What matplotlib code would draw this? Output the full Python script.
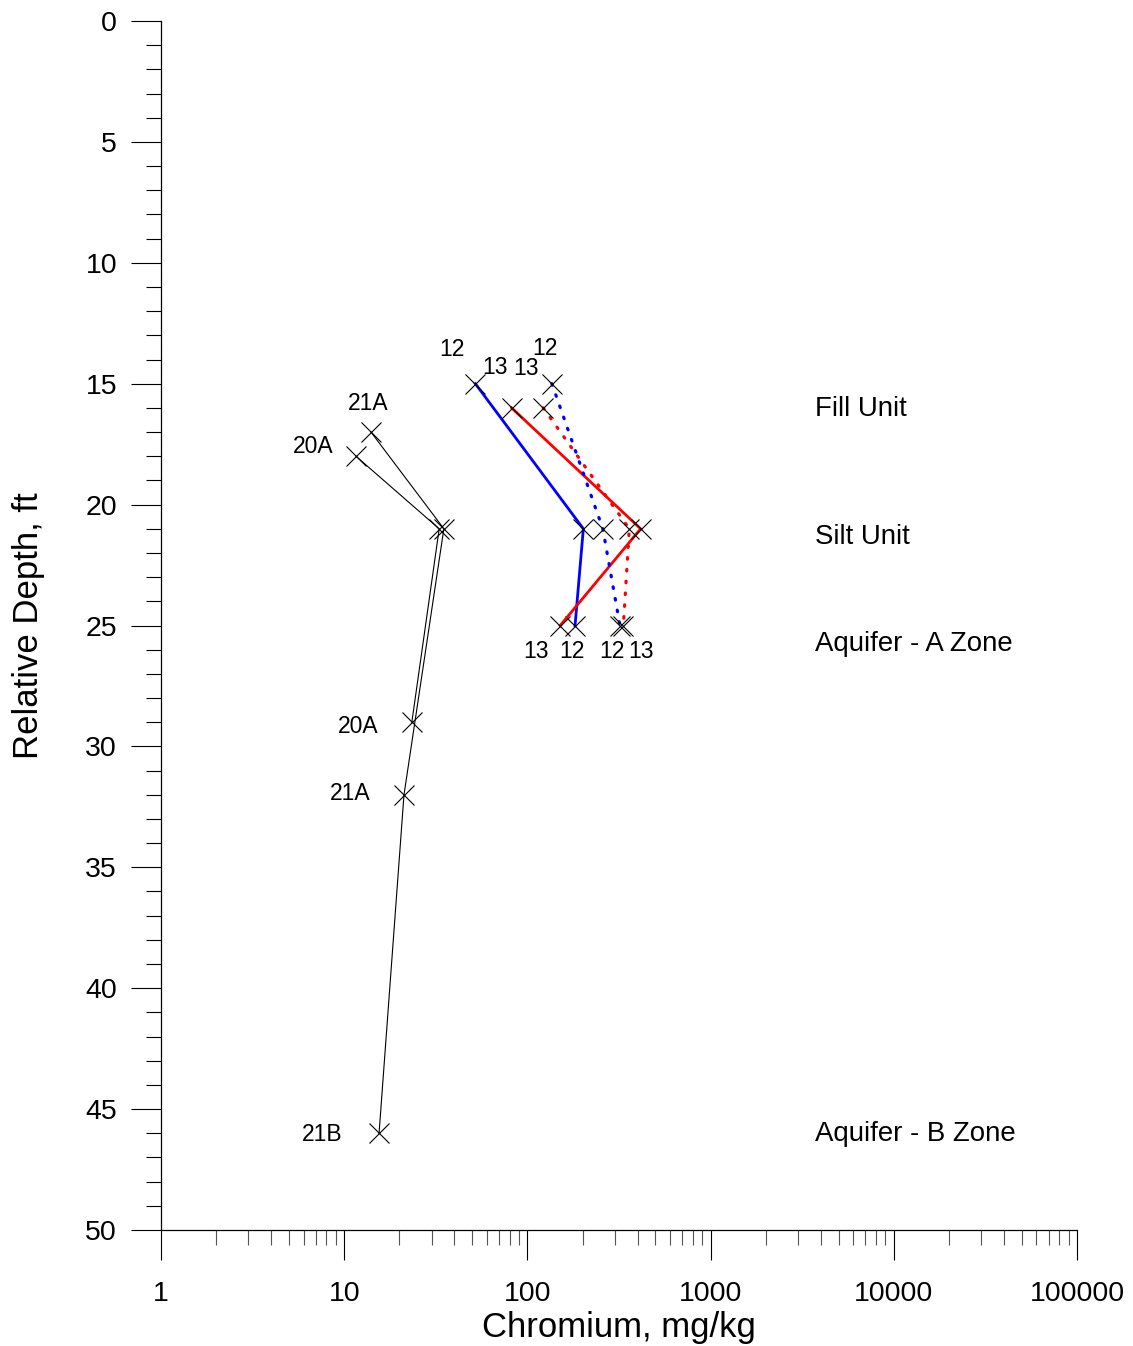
import numpy as np
import matplotlib.pyplot as plt
from matplotlib.ticker import LogLocator, FixedLocator, MultipleLocator

plt.rcParams['font.family'] = ['Liberation Sans', 'DejaVu Sans']

# Chromium (mg/kg) vs relative depth (ft) by boring
depth_20A = [18, 21, 29]
cr_20A = [11.6, 33, 23.4]
labels_20A = ['20A', None, '20A']

depth_21 = [17, 21, 32, 46]
cr_21 = [14, 35, 21.2, 15.5]
labels_21 = ['21A', None, '21A', '21B']

depth_12_solid = [15, 21, 25]
cr_12_solid = [52, 202, 182]
labels_12_solid = ['12', None, '12']

depth_13_solid = [16, 21, 25]
cr_13_solid = [82, 415, 151]
labels_13_solid = ['13', None, '13']

depth_12_dot = [15, 21, 25]
cr_12_dot = [136, 258, 320]
labels_12_dot = ['12', None, '12']

depth_13_dot = [16, 21, 25]
cr_13_dot = [122, 360, 334]
labels_13_dot = ['13', None, '13']

units = ['Fill Unit', 'Silt Unit', 'Aquifer - A Zone', 'Aquifer - B Zone']
unit_depths = [16.05, 21.35, 25.75, 46.05]

px = 0.72  # points per pixel at dpi 100

fig = plt.figure(figsize=(11.33, 13.46), dpi=100)
ax = fig.add_axes([161 / 1133, 1 - 1230 / 1346, (1077 - 161) / 1133, (1230 - 21) / 1346])

mk = dict(marker='x', ms=15, mec='black', mew=0.8)

# black borings
ax.plot(cr_20A, depth_20A, color='black', lw=0.8, **mk)
ax.plot(cr_21, depth_21, color='black', lw=0.8, **mk)

# coloured borings
ax.plot(cr_12_solid, depth_12_solid, color='#0000ff', lw=2.0, **mk)
ax.plot(cr_13_solid, depth_13_solid, color='#ff0000', lw=2.0, **mk)
ax.plot(cr_12_dot, depth_12_dot, color='#0000ff', lw=2.3, ls=(0, (0.5, 3.2)),
        dash_capstyle='round', **mk)
ax.plot(cr_13_dot, depth_13_dot, color='#ff0000', lw=2.3, ls=(0, (0.5, 3.2)),
        dash_capstyle='round', **mk)

# point labels, offsets in pixels (right, up)
def put_labels(xs, ys, labels, offsets):
    for xv, yv, lab, off in zip(xs, ys, labels, offsets):
        if lab is None:
            continue
        ax.annotate(lab, (xv, yv), xytext=(off[0] * px, off[1] * px),
                    textcoords='offset points', ha='center', va='center', fontsize=16.5)

put_labels(cr_20A, depth_20A, labels_20A, [(-43, 10), None, (-54, -4)])
put_labels(cr_21, depth_21, labels_21, [(-3, 29), None, (-54, 1), (-57, -1)])
put_labels(cr_12_solid, depth_12_solid, labels_12_solid, [(-23, 34), None, (-3, -26)])
put_labels(cr_13_solid, depth_13_solid, labels_13_solid, [(-17, 40), None, (-24, -26)])
put_labels(cr_12_dot, depth_12_dot, labels_12_dot, [(-7, 35), None, (-8, -26)])
put_labels(cr_13_dot, depth_13_dot, labels_13_dot, [(-17, 39), None, (18, -26)])

for u, d in zip(units, unit_depths):
    ax.text(3715, d, u, ha='left', va='center', fontsize=19.9)

ax.set_xscale('log')
ax.set_xlim(1, 100000)
ax.set_ylim(50, 0)

ax.xaxis.set_major_locator(FixedLocator([1, 10, 100, 1000, 10000, 100000]))
ax.xaxis.set_minor_locator(LogLocator(base=10, subs=np.arange(2, 10), numticks=20))
ax.set_xticklabels(['1', '10', '100', '1000', '10000', '100000'])
ax.yaxis.set_major_locator(MultipleLocator(5))
ax.yaxis.set_minor_locator(MultipleLocator(1))

ax.spines['top'].set_visible(False)
ax.spines['right'].set_visible(False)
ax.spines['left'].set_linewidth(0.9)
ax.spines['bottom'].set_linewidth(0.9)

ax.tick_params(axis='x', which='major', direction='out', length=21.6, width=0.8,
               pad=15, labelsize=20.5)
ax.tick_params(axis='x', which='minor', direction='out', length=10.8, width=0.8, color='#555555')
ax.tick_params(axis='y', which='major', direction='out', length=21.6, width=0.8,
               pad=10, labelsize=20.5)
ax.tick_params(axis='y', which='minor', direction='out', length=10.8, width=0.8)

ax.set_xlabel('Chromium, mg/kg', fontsize=25, labelpad=3)
ax.set_ylabel('Relative Depth, ft', fontsize=25, labelpad=29)

fig.savefig('out.png', dpi=100)
